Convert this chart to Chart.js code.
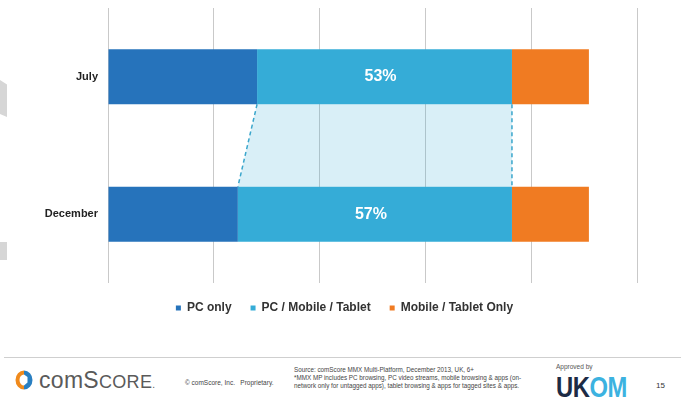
<!DOCTYPE html>
<html>
<head>
<meta charset="utf-8">
<script src="https://cdn.jsdelivr.net/npm/chart.js@4/dist/chart.umd.min.js"></script>
<style>
  html, body { margin: 0; padding: 0; background: #fff; }
  body { width: 681px; height: 407px; position: relative; overflow: hidden; font-family: "Liberation Sans", Arial, sans-serif; }
  #wrap { position: absolute; left: 0; top: 0; width: 681px; height: 324px; }
  .deco { position: absolute; background: #d6d6d6; }
  #rule { position: absolute; left: 4px; right: 0; top: 357px; height: 1px; background: #cfcfcf; }
  .ft { position: absolute; color: #444; }
</style>
</head>
<body>
<div class="deco" style="left:0;top:80px;width:7px;height:37px;clip-path:polygon(0 0,100% 12%,100% 100%,0 92%);"></div>
<div class="deco" style="left:0;top:242px;width:7px;height:18px;"></div>
<div id="wrap"><canvas id="c" width="681" height="324"></canvas></div>
<div id="rule"></div>

<svg style="position:absolute;left:15px;top:370px" width="18" height="20" viewBox="0 0 18 20">
  <path d="M9 0.5 A8.5 9.5 0 0 0 9 19.5 L9 15.5 A4.5 5.5 0 0 1 9 4.5 Z" fill="#f08a1c"/>
  <path d="M9 0.5 A8.5 9.5 0 0 1 9 19.5 L9 15.5 L12.5 12.5 L12.5 7 L9 4.5 Z" fill="#2a7fc1"/>
</svg>
<div class="ft" style="left:39px;top:367px;font-size:23px;color:#5a5a5a;letter-spacing:0.3px;">com<span style="font-size:23px">S</span><span style="font-size:18px">CORE</span><span style="font-size:10px">.</span></div>
<div class="ft" style="left:185px;top:379px;font-size:6.5px;">© comScore, Inc.&nbsp;&nbsp;&nbsp;Proprietary.</div>
<div class="ft" style="left:294px;top:366px;font-size:6.3px;line-height:8.2px;white-space:nowrap;">Source: comScore MMX Multi-Platform, December 2013, UK, 6+<br>*MMX MP includes PC browsing, PC video streams, mobile browsing &amp; apps (on-<br>network only for untagged apps), tablet browsing &amp; apps for tagged sites &amp; apps.</div>
<div class="ft" style="left:556px;top:363px;font-size:6.5px;color:#555;">Approved by</div>
<div class="ft" style="left:556px;top:371px;font-size:29px;font-weight:bold;letter-spacing:-0.5px;color:#1d2b45;transform:scaleX(0.82);transform-origin:0 0;">UK<span style="color:#3cb2e0">O</span><span style="color:#3cb2e0">M</span></div>
<div class="ft" style="left:656px;top:381px;font-size:8px;color:#333;">15</div>

<script>
const categories = ['July', 'December'];
const seriesNames = ['PC only', 'PC / Mobile / Tablet', 'Mobile / Tablet Only'];
const pcOnly = [31, 27];
const pcMobileTablet = [53, 57];
const mobileTabletOnly = [16, 16];
const xTickMax = 110;
const xTickStep = 22;

const colors = ['#2673bb', '#35acd7', '#f07b22'];

const connectorPlugin = {
  id: 'connector',
  beforeDatasetsDraw(chart) {
    const meta = chart.getDatasetMeta(1);
    const a = meta.data[0].getProps(['x', 'y', 'base', 'height'], true);
    const b = meta.data[1].getProps(['x', 'y', 'base', 'height'], true);
    const yTop = a.y + a.height / 2;
    const yBot = b.y - b.height / 2;
    const ctx = chart.ctx;
    ctx.save();
    ctx.beginPath();
    ctx.moveTo(a.base, yTop);
    ctx.lineTo(a.x, yTop);
    ctx.lineTo(b.x, yBot);
    ctx.lineTo(b.base, yBot);
    ctx.closePath();
    ctx.fillStyle = 'rgba(53,172,215,0.19)';
    ctx.fill();
    ctx.setLineDash([4, 3]);
    ctx.strokeStyle = '#3aa6cc';
    ctx.lineWidth = 1.5;
    ctx.beginPath();
    ctx.moveTo(a.base, yTop); ctx.lineTo(b.base, yBot);
    ctx.moveTo(a.x, yTop); ctx.lineTo(b.x, yBot);
    ctx.stroke();
    ctx.restore();
  }
};

const labelPlugin = {
  id: 'midLabels',
  afterDatasetsDraw(chart) {
    const meta = chart.getDatasetMeta(1);
    const ctx = chart.ctx;
    ctx.save();
    ctx.fillStyle = '#ffffff';
    ctx.font = 'bold 16px "Liberation Sans", Arial, sans-serif';
    ctx.textAlign = 'center';
    ctx.textBaseline = 'middle';
    meta.data.forEach((el, i) => {
      const p = el.getProps(['x', 'y', 'base'], true);
      ctx.fillText(pcMobileTablet[i] + '%', (p.x + p.base) / 2 - 4, p.y);
    });
    ctx.restore();
  }
};

const legendShift = {
  id: 'legendShift',
  afterLayout(chart) {
    if (chart.legend) { chart.legend.left += 26; chart.legend.right += 26; }
  }
};

const seriesData = [pcOnly, pcMobileTablet, mobileTabletOnly];

new Chart(document.getElementById('c'), {
  type: 'bar',
  data: {
    labels: categories,
    datasets: seriesNames.map((n, i) => ({
      label: n,
      data: seriesData[i],
      backgroundColor: colors[i],
      borderWidth: 0,
      barPercentage: 0.8,
      categoryPercentage: 0.5
    }))
  },
  options: {
    indexAxis: 'y',
    responsive: false,
    animation: false,
    layout: { padding: { top: 8, right: 44, bottom: 0, left: 0 } },
    scales: {
      x: {
        stacked: true,
        min: 0, max: xTickMax,
        ticks: { display: false, stepSize: xTickStep },
        grid: { color: '#c9c9c9', lineWidth: 1, drawTicks: false },
        border: { display: false },
        afterFit(scale) { scale.height = 0; scale.paddingLeft = 0; scale.paddingRight = 0; }
      },
      y: {
        stacked: true,
        grid: { display: false, drawTicks: false },
        border: { display: false },
        ticks: {
          padding: 10,
          color: '#222',
          font: { family: '"Liberation Sans", Arial, sans-serif', size: 11, weight: 'bold' }
        },
        afterFit(scale) { scale.width = 108; scale.paddingTop = 0; scale.paddingBottom = 0; }
      }
    },
    plugins: {
      legend: {
        position: 'bottom',
        labels: {
          boxWidth: 5, boxHeight: 5, padding: 19,
          color: '#333',
          font: { family: '"Liberation Sans", Arial, sans-serif', size: 12, weight: 'bold' }
        }
      },
      tooltip: { enabled: false }
    }
  },
  plugins: [connectorPlugin, labelPlugin, legendShift]
});
</script>
</body>
</html>
